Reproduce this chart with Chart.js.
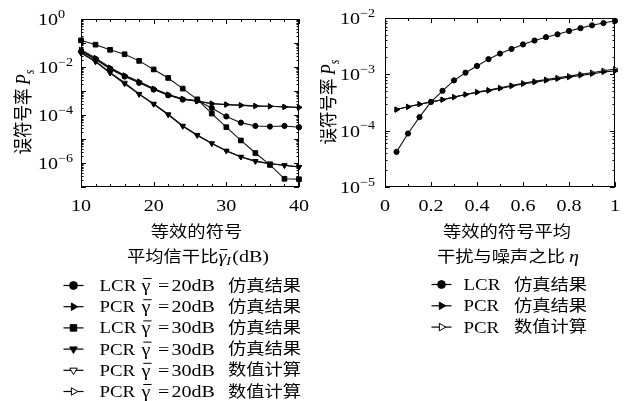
<!DOCTYPE html>
<html>
<head>
<meta charset="utf-8">
<script src="https://cdn.jsdelivr.net/npm/chart.js@4.4.1/dist/chart.umd.min.js"></script>
<style>
  html, body { margin: 0; padding: 0; background: #fff; }
  #wrap { position: relative; width: 625px; height: 401px; }
  #left, #right { position: absolute; top: 0; }
  #left { left: 0; }
  #right { left: 320px; }
</style>
</head>
<body>
<div id="wrap">
  <canvas id="left" width="320" height="401"></canvas>
  <canvas id="right" width="305" height="401"></canvas>
</div>
<script>
// ---- data: left panel (P_s vs equivalent SIR, dB)
const snrDb = [10, 12, 14, 16, 18, 20, 22, 24, 26, 28, 30, 32, 34, 36, 38, 40];
const lcr20Sim = [4.4e-2, 2.1e-2, 8.3e-3, 4.0e-3, 2.2e-3, 1.15e-3, 6.6e-4, 4.4e-4, 4.0e-4, 1.95e-4, 8.7e-5, 4.8e-5, 3.5e-5, 3.3e-5, 3.5e-5, 3.1e-5];
const pcr20Sim = [4.8e-2, 2.2e-2, 8.9e-3, 4.2e-3, 2.3e-3, 1.2e-3, 6.9e-4, 4.6e-4, 3.8e-4, 2.95e-4, 2.7e-4, 2.5e-4, 2.35e-4, 2.3e-4, 2.15e-4, 2.05e-4];
const lcr30Sim = [1.29e-1, 8.5e-2, 5.2e-2, 3.4e-2, 1.8e-2, 7.9e-3, 3.5e-3, 1.26e-3, 4.5e-4, 1.15e-4, 3.1e-5, 8.7e-6, 2.6e-6, 8.3e-7, 2.2e-7, 2.1e-7];
const pcr30Sim = [3.8e-2, 1.66e-2, 5.6e-3, 2.0e-3, 7.2e-4, 2.8e-4, 1.02e-4, 3.4e-5, 1.41e-5, 6.5e-6, 3.2e-6, 1.78e-6, 1.17e-6, 9.3e-7, 7.9e-7, 6.8e-7];
const pcr30Num = [4.0e-2, 1.74e-2, 6.0e-3, 2.2e-3, 7.6e-4, 2.95e-4, 1.07e-4, 3.55e-5, 1.48e-5, 6.6e-6, 3.24e-6, 1.82e-6, 1.2e-6, 9.5e-7, 8.1e-7, 6.9e-7];
const pcr20Num = [5.2e-2, 2.4e-2, 9.5e-3, 4.5e-3, 2.5e-3, 1.26e-3, 7.1e-4, 4.7e-4, 3.8e-4, 3.0e-4, 2.75e-4, 2.57e-4, 2.4e-4, 2.3e-4, 2.2e-4, 2.1e-4];

// ---- data: right panel (P_s vs interference-to-noise ratio eta)
const etaVals = [0.05, 0.1, 0.15, 0.2, 0.25, 0.3, 0.35, 0.4, 0.45, 0.5, 0.55, 0.6, 0.65, 0.7, 0.75, 0.8, 0.85, 0.9, 0.95, 1.0];
const etaLcrSim = [4.2e-5, 8.9e-5, 1.74e-4, 3.24e-4, 5.1e-4, 7.8e-4, 1.07e-3, 1.41e-3, 1.86e-3, 2.34e-3, 2.82e-3, 3.39e-3, 3.98e-3, 4.57e-3, 5.13e-3, 5.89e-3, 6.61e-3, 7.41e-3, 8.13e-3, 8.91e-3];
const etaPcrSim = [2.37e-4, 2.65e-4, 2.95e-4, 3.24e-4, 3.55e-4, 3.94e-4, 4.37e-4, 4.79e-4, 5.13e-4, 5.62e-4, 6.17e-4, 6.76e-4, 7.24e-4, 7.76e-4, 8.32e-4, 8.91e-4, 9.55e-4, 1.02e-3, 1.10e-3, 1.15e-3];
const etaPcrNum = [2.37e-4, 2.65e-4, 2.95e-4, 3.24e-4, 3.55e-4, 3.94e-4, 4.4e-4, 4.85e-4, 5.25e-4, 5.75e-4, 6.35e-4, 6.95e-4, 7.5e-4, 8.05e-4, 8.65e-4, 9.3e-4, 1.0e-3, 1.07e-3, 1.16e-3, 1.24e-3];

// ---- tick labels
const xTicksL = [10, 20, 30, 40];
const xTicksR = [0, 0.2, 0.4, 0.6, 0.8, 1];
const xTickLabelsR = ['0', '0.2', '0.4', '0.6', '0.8', '1'];
const yExpL = [0, -2, -4, -6];
const yExpR = [-2, -3, -4, -5];

// ---- legend texts
const legSchemeL = ['LCR', 'PCR', 'LCR', 'PCR', 'PCR', 'PCR'];
const legGammaL = ['20dB', '20dB', '30dB', '30dB', '30dB', '20dB'];
const legKindL = ['仿真结果', '仿真结果', '仿真结果', '仿真结果', '数值计算', '数值计算'];
const legSchemeR = ['LCR', 'PCR', 'PCR'];
const legKindR = ['仿真结果', '仿真结果', '数值计算'];

// text is a bit wide in the original, stretch horizontally
const SX = 1.18;
const LAT = '17px "Liberation Serif", "DejaVu Serif", serif';
const LAT_L = '16px "Liberation Serif", "DejaVu Serif", serif';
const LAT_I = 'italic 17px "Liberation Serif", "DejaVu Serif", serif';
const SUP = '12px "Liberation Serif", "DejaVu Serif", serif';
const SUB_I = 'italic 12px "Liberation Serif", "DejaVu Serif", serif';
const CJK = '15.5px "Noto Sans CJK SC", sans-serif';
const CJK_T = '16.5px "Noto Sans CJK SC", sans-serif';

function drawRuns(ctx, runs, x, y, align, rotate) {
  ctx.save();
  ctx.translate(x, y);
  ctx.scale(SX, 1);
  if (rotate) ctx.rotate(-Math.PI / 2);
  let w = 0;
  runs.forEach(r => { ctx.font = r.f; w += ctx.measureText(r.t).width + (r.gap || 0); });
  let cx = align === 'center' ? -w / 2 : (align === 'right' ? -w : 0);
  ctx.fillStyle = '#000';
  ctx.textBaseline = 'alphabetic';
  ctx.textAlign = 'left';
  runs.forEach(r => {
    ctx.font = r.f;
    const tw = ctx.measureText(r.t).width;
    ctx.fillText(r.t, cx, r.dy || 0);
    if (r.bar) ctx.fillRect(cx + 1.5, (r.dy || 0) - 13, tw - 0.5, 1);
    cx += tw + (r.gap || 0);
  });
  ctx.restore();
}

function boxTicks(chart, xMajor, xMinorStep, xMin, xMax) {
  const ctx = chart.ctx;
  const a = chart.chartArea;
  const xs = chart.scales.x, ys = chart.scales.y;
  ctx.save();
  ctx.strokeStyle = '#000';
  ctx.lineWidth = 1;
  ctx.strokeRect(Math.round(a.left) + 0.5, Math.round(a.top) + 0.5, Math.round(a.right - a.left) - 1, Math.round(a.bottom - a.top) - 1);
  ctx.beginPath();
  for (let v = xMin; v <= xMax + 1e-9; v += xMinorStep) {
    const major = xMajor.some(m => Math.abs(m - v) < 1e-6);
    const len = major ? 5 : 3;
    const px = Math.round(xs.getPixelForValue(v)) + 0.5;
    ctx.moveTo(px, a.bottom); ctx.lineTo(px, a.bottom - len);
    ctx.moveTo(px, a.top); ctx.lineTo(px, a.top + len);
  }
  const eMin = Math.round(Math.log10(ys.min)), eMax = Math.round(Math.log10(ys.max));
  for (let e = eMin; e <= eMax; e++) {
    for (let k = 1; k <= 9; k++) {
      const v = k * Math.pow(10, e);
      if (v < ys.min * 0.999 || v > ys.max * 1.001) continue;
      const len = k === 1 ? 5 : 2.5;
      const py = Math.round(ys.getPixelForValue(v)) + 0.5;
      ctx.moveTo(a.left, py); ctx.lineTo(a.left + len, py);
      ctx.moveTo(a.right, py); ctx.lineTo(a.right - len, py);
    }
  }
  ctx.stroke();
  ctx.restore();
}

function legendMarker(ctx, ds, x, y) {
  ctx.save();
  ctx.strokeStyle = '#000';
  ctx.lineWidth = 1.2;
  ctx.beginPath();
  ctx.moveTo(x - 10, y + 0.5); ctx.lineTo(x + 10, y + 0.5);
  ctx.stroke();
  ctx.lineWidth = 1;
  ctx.fillStyle = ds.pointBackgroundColor;
  Chart.helpers.drawPoint(ctx, {
    pointStyle: ds.pointStyle, rotation: ds.pointRotation || 0,
    radius: ds.pointRadius + 1.3, borderWidth: 1
  }, x, y + 0.5);
  ctx.restore();
}

const leftDecor = {
  id: 'leftDecor',
  afterDraw(chart) {
    const ctx = chart.ctx;
    const xs = chart.scales.x, ys = chart.scales.y;
    boxTicks(chart, xTicksL, 2, 10, 40);
    xTicksL.forEach(v => drawRuns(ctx, [{ t: String(v), f: LAT }], xs.getPixelForValue(v), 210.5, 'center'));
    yExpL.forEach(e => drawRuns(ctx, [{ t: '10', f: LAT }, { t: e === 0 ? '0' : '\u2212' + Math.abs(e), f: SUP, dy: -7.5 }],
      38, ys.getPixelForValue(Math.pow(10, e)) + 6, 'left'));
    // y title
    drawRuns(ctx, [{ t: '误符号率 ', f: CJK_T }, { t: 'P', f: LAT_I }, { t: 's', f: SUB_I, dy: 3 }], 30, 112, 'center', true);
    // x title
    drawRuns(ctx, [{ t: '等效的符号', f: CJK }], 196.5, 237, 'center');
    drawRuns(ctx, [{ t: '平均信干比', f: CJK }, { t: 'γ', f: LAT_I, bar: true }, { t: 'I', f: SUB_I, dy: 3, gap: 1 }, { t: '(dB)', f: LAT }], 198, 262, 'center');
    // legend
    chart.data.datasets.forEach((ds, i) => {
      const y = 285 + i * 21.2;
      legendMarker(ctx, ds, 73.5, y);
      drawRuns(ctx, [{ t: legSchemeL[i], f: LAT_L }], 99.5, y + 6, 'left');
      drawRuns(ctx, [{ t: 'γ', f: LAT, bar: true }], 141.5, y + 6, 'left');
      drawRuns(ctx, [{ t: '=', f: LAT }], 158, y + 6, 'left');
      drawRuns(ctx, [{ t: legGammaL[i], f: LAT }], 171.5, y + 6, 'left');
      drawRuns(ctx, [{ t: legKindL[i], f: CJK }], 228, y + 5.5, 'left');
    });
  }
};

const rightDecor = {
  id: 'rightDecor',
  afterDraw(chart) {
    const ctx = chart.ctx;
    const xs = chart.scales.x, ys = chart.scales.y;
    boxTicks(chart, xTicksR, 0.1, 0, 1);
    xTicksR.forEach((v, i) => drawRuns(ctx, [{ t: xTickLabelsR[i], f: LAT }], xs.getPixelForValue(v), 210.5, 'center'));
    yExpR.forEach(e => drawRuns(ctx, [{ t: '10', f: LAT }, { t: '\u2212' + Math.abs(e), f: SUP, dy: -7.5 }],
      20, ys.getPixelForValue(Math.pow(10, e)) + 6, 'left'));
    drawRuns(ctx, [{ t: '误符号率 ', f: CJK_T }, { t: 'P', f: LAT_I }, { t: 's', f: SUB_I, dy: 3 }], 15, 102, 'center', true);
    drawRuns(ctx, [{ t: '等效的符号平均', f: CJK }], 187, 237, 'center');
    drawRuns(ctx, [{ t: '干扰与噪声之比 ', f: CJK }, { t: 'η', f: LAT_I }], 188, 262, 'center');
    chart.data.datasets.forEach((ds, i) => {
      const y = 284 + i * 21.3;
      legendMarker(ctx, ds, 121.5, y);
      drawRuns(ctx, [{ t: legSchemeR[i], f: LAT_L }], 143.5, y + 6, 'left');
      drawRuns(ctx, [{ t: legKindR[i], f: CJK }], 194, y + 5.5, 'left');
    });
  }
};

function series(xv, yv, style, rot, hollow, r) {
  return {
    data: xv.map((x, i) => ({ x, y: yv[i] })),
    borderColor: '#111',
    borderWidth: 1.1,
    pointStyle: style,
    pointRotation: rot,
    pointRadius: r,
    pointBorderWidth: 1,
    pointBorderColor: '#000',
    pointBackgroundColor: hollow ? '#fff' : '#000',
    tension: 0,
    clip: false
  };
}

function axes(xMin, xMax, yMin, yMax, yWidth) {
  return {
    x: {
      type: 'linear', min: xMin, max: xMax,
      ticks: { display: false }, grid: { display: false }, border: { display: false },
      afterFit: (s) => { s.height = 214; }
    },
    y: {
      type: 'logarithmic', min: yMin, max: yMax,
      ticks: { display: false }, grid: { display: false }, border: { display: false },
      afterFit: (s) => { s.width = yWidth; }
    }
  };
}

const baseOpts = {
  responsive: false,
  animation: false,
  plugins: { legend: { display: false }, tooltip: { enabled: false } }
};

new Chart(document.getElementById('left').getContext('2d'), {
  type: 'line',
  data: {
    datasets: [
      series(snrDb, lcr20Sim, 'circle', 0, false, 2.6),
      series(snrDb, pcr20Sim, 'triangle', 90, false, 3),
      series(snrDb, lcr30Sim, 'rect', 0, false, 3.3),
      series(snrDb, pcr30Sim, 'triangle', 180, false, 3),
      series(snrDb, pcr30Num, 'triangle', 180, true, 3),
      series(snrDb, pcr20Num, 'triangle', 90, true, 3)
    ]
  },
  options: {
    ...baseOpts,
    layout: { padding: { top: 19, right: 21, left: 0, bottom: 0 } },
    scales: axes(10, 40, 1e-7, 1, 81)
  },
  plugins: [leftDecor]
});

new Chart(document.getElementById('right').getContext('2d'), {
  type: 'line',
  data: {
    datasets: [
      series(etaVals, etaLcrSim, 'circle', 0, false, 2.6),
      series(etaVals, etaPcrSim, 'triangle', 90, false, 3),
      series(etaVals, etaPcrNum, 'triangle', 90, true, 3)
    ]
  },
  options: {
    ...baseOpts,
    layout: { padding: { top: 18, right: 10, left: 0, bottom: 0 } },
    scales: axes(0, 1, 1e-5, 1e-2, 65)
  },
  plugins: [rightDecor]
});
</script>
</body>
</html>
